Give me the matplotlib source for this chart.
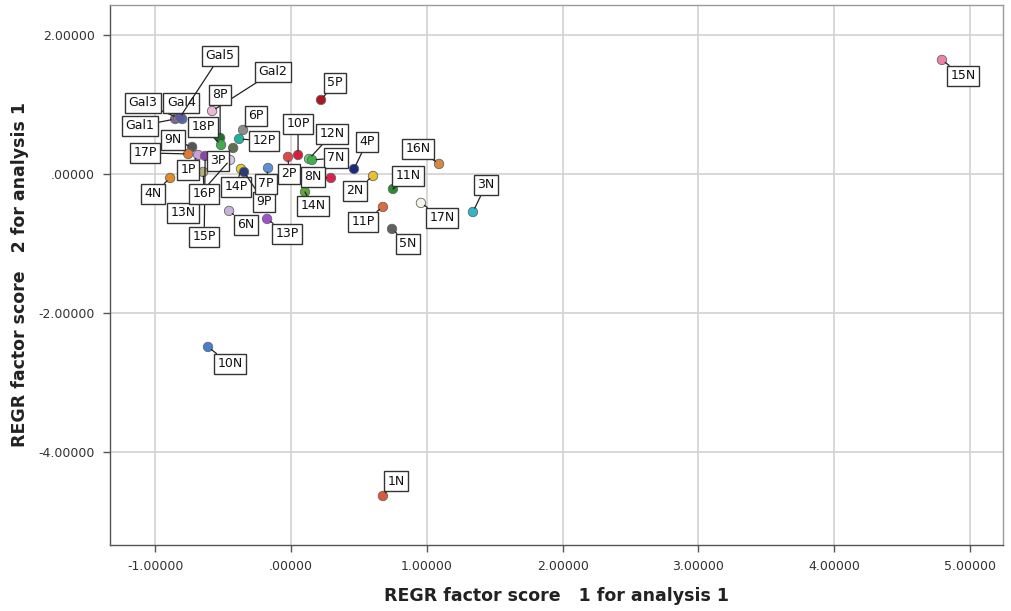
import numpy as np
import matplotlib
matplotlib.use("Agg")
import matplotlib.pyplot as plt
from matplotlib.ticker import FuncFormatter, MultipleLocator

# case labels, factor scores and marker colours
labels = ["Gal1", "Gal3", "Gal4", "Gal5", "Gal2",
          "8P", "18P", "6P", "12P", "3P", "9N", "17P", "1P", "15P", "13N",
          "16P", "4N", "14P", "9P", "7P", "6N", "13P", "2P", "10P", "5P",
          "12N", "7N", "8N", "14N", "4P", "2N", "11N", "11P", "17N", "16N",
          "3N", "5N", "10N", "1N", "15N"]
score1 = [-0.853, -0.831, -0.801, -0.816, -0.581,
          -0.522, -0.515, -0.353, -0.382, -0.426, -0.728, -0.757, -0.684, -0.632, -0.449,
          -0.647, -0.890, -0.368, -0.346, -0.169, -0.456, -0.176, -0.022, 0.052, 0.221,
          0.133, 0.155, 0.294, 0.103, 0.464, 0.604, 0.751, 0.677, 0.957, 1.090,
          1.340, 0.744, -0.611, 0.677, 4.794]
score2 = [0.791, 0.806, 0.791, 0.820, 0.906,
          0.518, 0.417, 0.633, 0.504, 0.374, 0.388, 0.288, 0.273, 0.259, 0.201,
          0.029, -0.058, 0.072, 0.029, 0.086, -0.532, -0.647, 0.245, 0.273, 1.065,
          0.216, 0.201, -0.058, -0.259, 0.072, -0.029, -0.216, -0.475, -0.417, 0.144,
          -0.547, -0.791, -2.489, -4.633, 1.640]
colors = ["#8a5fa8", "#7f7f8f", "#4a6fc9", "#5a5aa0", "#f0b8d8",
          "#1f6e2e", "#3fae49", "#8c8c8c", "#20b2a0", "#5e6e4e", "#555555", "#e07a30",
          "#c9a0dc", "#8e44ad", "#d8c8e8", "#b8ad7a", "#e08a2a", "#e8d020", "#2a3a7a",
          "#5b8fd8", "#c9b0dc", "#a04fd0", "#e04848", "#d81e3c", "#b0121e", "#60d070",
          "#3cb44b", "#e0204a", "#5aaa3a", "#1a2a80", "#e8c030", "#2e8b2e", "#e06a3a",
          "#f5f5ea", "#d68a40", "#30b8c8", "#606060", "#4a7fd0", "#d85a3a", "#f080a8"]

# where each label box sits relative to its point (pixels)
label_offsets = {
    "Gal1": (-35, -7), "Gal3": (-35, 15), "Gal4": (-1, 16), "Gal5": (40, 61),
    "Gal2": (61, 39), "8P": (0, 43), "18P": (-18, 18), "6P": (13, 14),
    "12P": (25, -2), "3P": (-15, -13), "9N": (-19, 7), "17P": (-43, 1),
    "1P": (-10, -15), "15P": (-1, -81), "13N": (-47, -53), "16P": (1, -22),
    "4N": (-17, -16), "14P": (-5, -18), "9P": (20, -30), "7P": (-2, -16),
    "6N": (17, -14), "13P": (20, -15), "2P": (1, -17), "10P": (0, 31),
    "5P": (14, 17), "12N": (23, 25), "7N": (24, 2), "8N": (-18, 1),
    "14N": (8, -14), "4P": (13, 27), "2N": (-18, -15), "11N": (15, 13),
    "11P": (-20, -15), "17N": (21, -15), "16N": (-21, 15), "3N": (13, 27),
    "5N": (16, -15), "10N": (22, -17), "1N": (13, 15), "15N": (21, -16),
}

fig = plt.figure(figsize=(10.11, 6.11), dpi=100)
ax = fig.add_axes([0.1088, 0.108, 0.8832, 0.884])

ax.set_xlim(-1.333, 5.243)
ax.set_ylim(-5.338, 2.432)
ax.xaxis.set_major_locator(MultipleLocator(1))
ax.yaxis.set_major_locator(MultipleLocator(2))

def spss_fmt(v, pos):
    s = f"{v:.5f}"
    if s.startswith("0."):
        s = s[1:]
    if s == "-0.00000":
        s = ".00000"
    return s

ax.xaxis.set_major_formatter(FuncFormatter(spss_fmt))
ax.yaxis.set_major_formatter(FuncFormatter(spss_fmt))
ax.grid(True, color="#d2d2d2", lw=1.2)
ax.set_axisbelow(True)
for sp in ax.spines.values():
    sp.set_color("#9a9a9a")
    sp.set_linewidth(1.0)
ax.spines["left"].set_color("#555555")
ax.spines["bottom"].set_color("#555555")
ax.tick_params(axis="both", labelsize=9, colors="#555555", labelcolor="#333333",
               length=5, width=1, pad=6)

ax.scatter(score1, score2, s=46, c=colors, edgecolors="#666666", linewidths=0.6,
           zorder=3)

for name, x, y in zip(labels, score1, score2):
    dx, dy = label_offsets[name]
    ax.annotate(name, (x, y), xytext=(dx, dy), textcoords="offset pixels",
                ha="center", va="center", fontsize=9, color="#111111", zorder=4,
                bbox=dict(boxstyle="square,pad=0.28", fc="white", ec="#333333", lw=1.0),
                arrowprops=dict(arrowstyle="-", color="#222222", lw=0.9,
                                shrinkA=0, shrinkB=3))

ax.set_xlabel("REGR factor score   1 for analysis 1", fontsize=12.5, fontweight="bold",
              color="#222222", labelpad=10)
ax.set_ylabel("REGR factor score   2 for analysis 1", fontsize=12.5, fontweight="bold",
              color="#222222", labelpad=7)

fig.savefig("out.png", dpi=100)
